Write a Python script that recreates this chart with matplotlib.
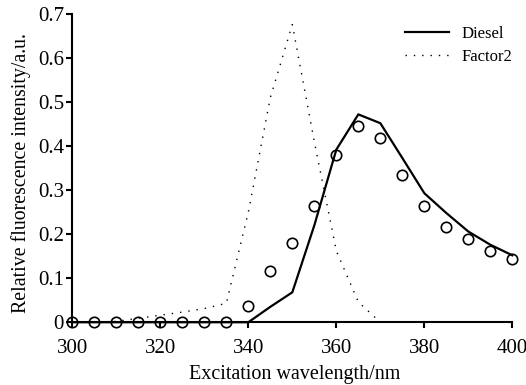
import numpy as np
import matplotlib.pyplot as plt

plt.rcParams["font.family"] = ["Liberation Serif", "DejaVu Serif"]

wavelength = [300, 305, 310, 315, 320, 325, 330, 335, 340, 345, 350, 355,
              360, 365, 370, 375, 380, 385, 390, 395, 400]
diesel = [0, 0, 0, 0, 0, 0, 0, 0, 0, 0.035, 0.068, 0.22,
          0.392, 0.472, 0.452, 0.373, 0.293, 0.248, 0.206, 0.176, 0.152]
factor2 = [0, 0, 0.002, 0.009, 0.016, 0.023, 0.031, 0.043, 0.25, 0.51, 0.676, 0.41,
           0.162, 0.046, 0.0]
factor2_wl = wavelength[:len(factor2)]
fitted = [0, 0, 0, 0, 0, 0, 0, 0, 0.037, 0.116, 0.181, 0.264,
          0.38, 0.445, 0.418, 0.335, 0.263, 0.216, 0.189, 0.162, 0.144]

fig = plt.figure(figsize=(5.26, 3.85), dpi=100)
ax = fig.add_axes([0.1375, 0.163, 0.8365, 0.8007])

ax.plot(wavelength, diesel, color="black", lw=1.6, label="Diesel", clip_on=False, zorder=3)
ax.plot(factor2_wl, factor2, color="black", lw=1.0, linestyle=(0, (1, 5)), label="Factor2")
ax.plot(wavelength, fitted, linestyle="none", marker="o", markersize=7.5,
        markerfacecolor="none", markeredgecolor="black", markeredgewidth=1.2,
        clip_on=False, zorder=4)

ax.set_xlim(300, 400)
ax.set_ylim(0, 0.7)
ax.set_xticks([300, 320, 340, 360, 380, 400])
ax.set_yticks([0, 0.1, 0.2, 0.3, 0.4, 0.5, 0.6, 0.7])
ax.set_yticklabels(["0", "0.1", "0.2", "0.3", "0.4", "0.5", "0.6", "0.7"])
ax.tick_params(direction="out", length=4, width=1.5, labelsize=15)
ax.tick_params(axis="x", pad=8)
ax.tick_params(axis="y", pad=2)

for side in ["top", "right"]:
    ax.spines[side].set_visible(False)
for side in ["left", "bottom"]:
    ax.spines[side].set_linewidth(1.5)

ax.set_xlabel("Excitation wavelength/nm", fontsize=14.5)
ax.set_ylabel("Relative fluorescence intensity/a.u.", fontsize=14.3)
ax.xaxis.set_label_coords(0.505, -0.14)
ax.yaxis.set_label_coords(-0.093, 0.485)

ax.legend(loc="upper right", frameon=False, fontsize=12, handlelength=2.6,
          bbox_to_anchor=(1.035, 1.01), labelspacing=0.4)

fig.savefig("out.png", dpi=100)
